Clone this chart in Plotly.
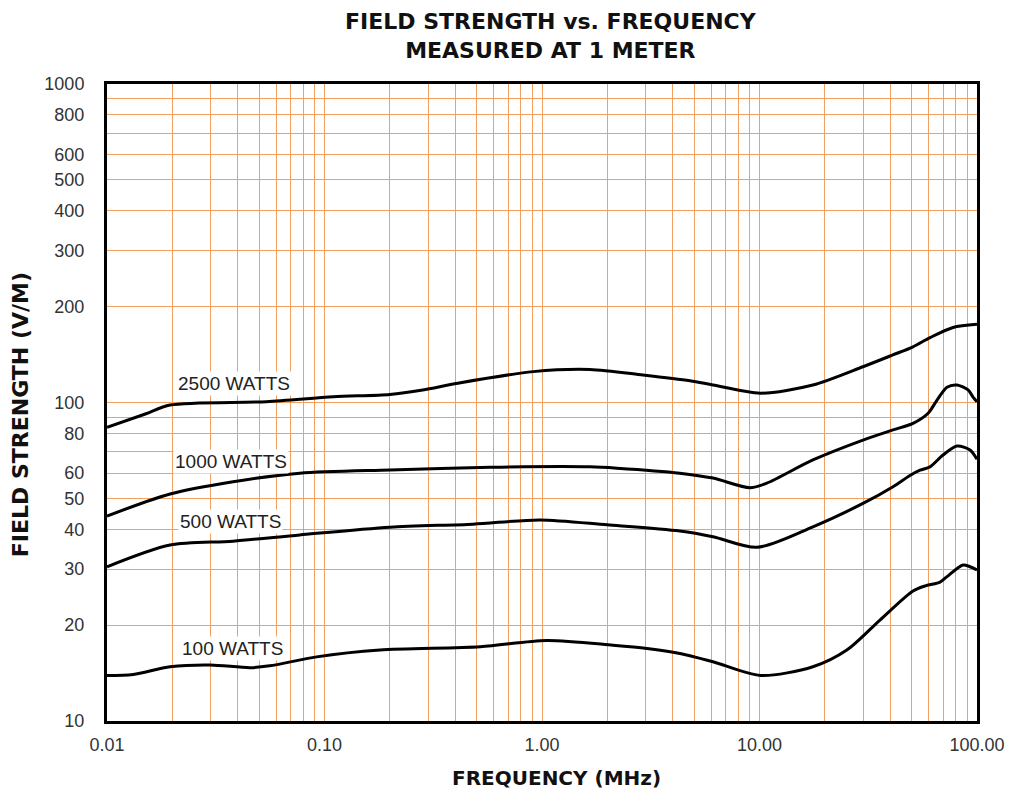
import math
import plotly.graph_objects as go

# --- data ---
f_2500 = [0.01, 0.015, 0.0195, 0.054, 0.11, 0.2, 0.283, 0.41, 0.91, 1.66, 2.91, 4.79, 6.11, 10.1, 17.6, 29.9, 41, 50.8, 60.8, 77.6, 100]
v_2500 = [83.6, 92, 98.2, 100.6, 104.2, 106, 109.5, 115, 125, 127, 122, 117, 113.5, 107, 113.5, 129.5, 141, 149.6, 159.8, 172, 176]

f_1000 = [0.01, 0.0195, 0.038, 0.077, 0.2, 0.577, 1.66, 2.21, 4.3, 6.11, 9.04, 10.8, 17.6, 29.9, 41.1, 50.8, 59.6, 65.5, 72.8, 80.9, 91, 95.9, 100]
v_1000 = [44.0, 51.6, 56.4, 60, 61.4, 62.6, 62.8, 62.2, 60, 57.9, 54.0, 55.8, 66, 76.2, 82, 86, 92.5, 101.8, 111.7, 113.5, 109.5, 104, 100.6]

f_500 = [0.01, 0.0195, 0.038, 0.077, 0.2, 0.482, 0.98, 1.99, 4.3, 6.11, 9.75, 17.6, 29.9, 41.1, 49.2, 54.7, 60.8, 69.8, 80.9, 92.9, 100]
v_500 = [30.5, 35.7, 36.7, 38.4, 40.6, 41.5, 42.8, 41.3, 39.5, 37.9, 35.1, 40.7, 48.2, 54.4, 59, 61.3, 62.8, 68.4, 73, 70.9, 66.3]

f_100 = [0.01, 0.0132, 0.0195, 0.0298, 0.0454, 0.056, 0.092, 0.18, 0.52, 1.05, 2.12, 3.04, 4.3, 6.11, 10.1, 17.6, 25.2, 35.8, 50.8, 58.3, 67.6, 72.8, 86.2, 92.9, 100]
v_100 = [13.9, 14.0, 14.8, 15.0, 14.7, 14.9, 15.9, 16.7, 17.1, 17.9, 17.3, 16.9, 16.3, 15.35, 13.9, 14.8, 16.7, 20.75, 25.6, 26.6, 27.3, 28.4, 30.9, 30.5, 29.8]

series_names = ["2500 WATTS", "1000 WATTS", "500 WATTS", "100 WATTS"]
label_f = [0.0382, 0.0370, 0.0368, 0.0376]
label_v = [115.1, 65.2, 42.3, 16.9]

x_ticks = [m * 10 ** e for e in range(-2, 2) for m in range(1, 10)] + [100]
x_labels = {0.01: "0.01", 0.1: "0.10", 1: "1.00", 10: "10.00", 100: "100.00"}
y_ticks = [m * 10 ** e for e in range(1, 3) for m in range(1, 10)] + [1000]
y_labels = [10, 20, 30, 40, 50, 60, 80, 100, 200, 300, 400, 500, 600, 800, 1000]

fig = go.Figure()
for fx, vy, name in zip([f_2500, f_1000, f_500, f_100], [v_2500, v_1000, v_500, v_100], series_names):
    fig.add_trace(go.Scatter(x=fx, y=vy, mode="lines", name=name,
                             line=dict(color="black", width=3, shape="spline", smoothing=0.8)))

# curve labels (log axes: annotation positions are in log10 units)
for name, lx, ly in zip(series_names, label_f, label_v):
    fig.add_annotation(x=math.log10(lx), y=math.log10(ly), xref="x", yref="y", text=name,
                       showarrow=False, xanchor="center", yanchor="middle", bgcolor="white",
                       font=dict(family="Liberation Sans", size=19, color="#222"))

# title
fig.add_annotation(x=0.51, y=1, xref="paper", yref="paper", yshift=48,
                   text="<b>FIELD STRENGTH vs. FREQUENCY<br>MEASURED AT 1 METER</b>",
                   showarrow=False, xanchor="center", yanchor="middle", align="center",
                   font=dict(family="DejaVu Sans", size=22, color="#111"))

# axis titles
fig.add_annotation(x=0.517, y=0, xref="paper", yref="paper", yshift=-57,
                   text="<b>FREQUENCY (MHz)</b>", showarrow=False,
                   xanchor="center", yanchor="middle",
                   font=dict(family="DejaVu Sans", size=20, color="#111"))
fig.add_annotation(x=0, y=0.48, xref="paper", yref="paper", xshift=-87,
                   text="<b>FIELD STRENGTH (V/M)</b>", showarrow=False, textangle=-90,
                   xanchor="center", yanchor="middle",
                   font=dict(family="DejaVu Sans", size=22, color="#111"))

def xlab(v):
    for k, s in x_labels.items():
        if abs(v - k) < 1e-9:
            return s
    return ""

grid_color = "#F2A060"
fig.update_xaxes(type="log", range=[-2, 2], tickvals=x_ticks, ticktext=[xlab(v) for v in x_ticks],
                 showgrid=True, gridcolor=grid_color, gridwidth=1.3,
                 showline=True, linecolor="black", linewidth=3, mirror=True, ticks="",
                 zeroline=False, ticklabelstandoff=5,
                 tickfont=dict(family="Liberation Sans", size=18, color="#333"))
fig.update_yaxes(type="log", range=[1, 3], tickvals=y_ticks,
                 ticktext=[str(v) if v in y_labels else "" for v in y_ticks],
                 showgrid=True, gridcolor=grid_color, gridwidth=1.3,
                 showline=True, linecolor="black", linewidth=3, mirror=True, ticks="",
                 zeroline=False, ticklabelstandoff=16,
                 tickfont=dict(family="Liberation Sans", size=18, color="#333"))

fig.update_layout(
    width=998, height=784,
    margin=dict(l=99, r=29, t=76, b=71, autoexpand=False),
    paper_bgcolor="white", plot_bgcolor="white",
    showlegend=False,
)

fig.write_html("out.html")
